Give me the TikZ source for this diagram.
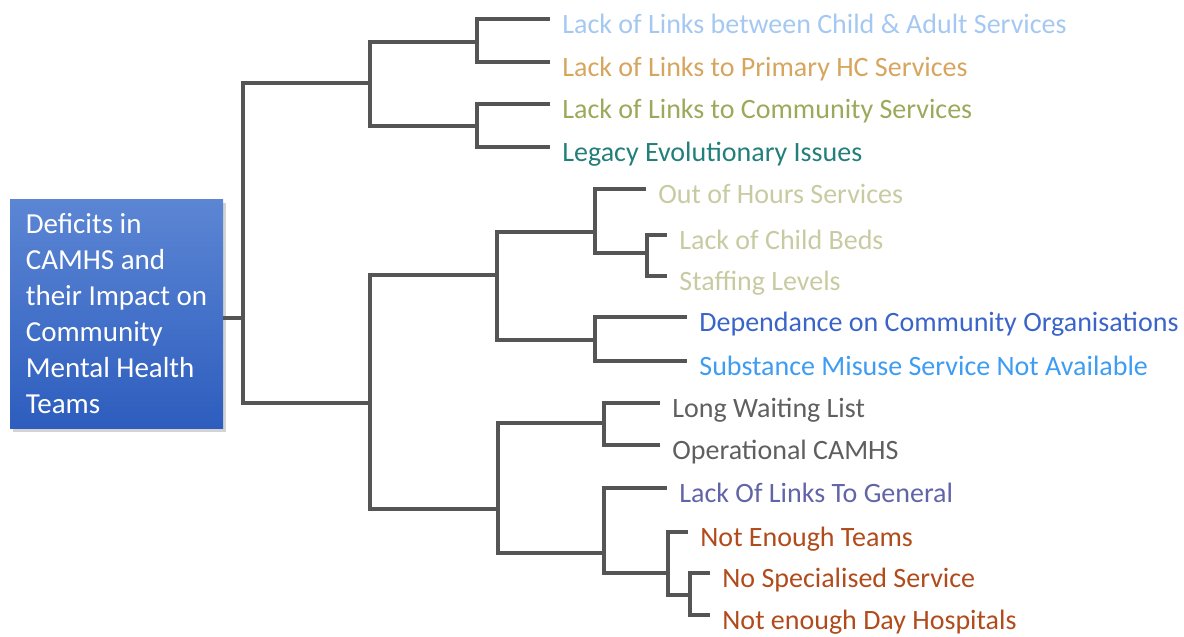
\documentclass[tikz,border=0pt]{standalone}
\usepackage{fontspec}
\setmainfont{Carlito}
\usepackage{tikz}
\usetikzlibrary{shadows}
\definecolor{lineGray}{HTML}{555555}
\definecolor{boxTop}{HTML}{5C86D4}
\definecolor{boxBot}{HTML}{2D5DBE}
\definecolor{cChildAdult}{HTML}{A4C8F2}
\definecolor{cPrimary}{HTML}{D6A55E}
\definecolor{cCommunity}{HTML}{9EA85A}
\definecolor{cLegacy}{HTML}{237F7A}
\definecolor{cHours}{HTML}{C8CBA2}
\definecolor{cDepend}{HTML}{3B64C9}
\definecolor{cSubst}{HTML}{3E9CF2}
\definecolor{cWaiting}{HTML}{5F5F5F}
\definecolor{cGeneral}{HTML}{6264A8}
\definecolor{cTeams}{HTML}{B14B1C}
\tikzset{
  branch/.style={draw=lineGray,line width=1.6pt},
  leaf/.style={anchor=west,inner xsep=6pt,inner ysep=0pt,text height=14pt,text depth=0pt,
    font=\fontsize{14}{16}\selectfont},
  rootbox/.style={top color=boxTop,bottom color=boxBot,text=white,align=left,
    minimum width=106.5pt,minimum height=114.5pt,
    font=\fontsize{14.5}{18}\selectfont,
    drop shadow={shadow xshift=1.5pt,shadow yshift=-1.5pt,opacity=0.35}}
}

\begin{document}
\begin{tikzpicture}[x=0.5pt,y=-0.5pt]
  \useasboundingbox (0,0) rectangle (1184,637);
  \node[rootbox] (root) at (116.5,314) {Deficits in\\CAMHS and\\their Impact on\\Community\\Mental Health\\Teams};
  % branch points
  \coordinate (J0) at (243,318);
  \coordinate (Ja) at (370,83);
  \coordinate (Jaa) at (477,42);
  \coordinate (Jab) at (477,126);
  \coordinate (Jb) at (370,403);
  \coordinate (Jba) at (497,275);
  \coordinate (Jbaa) at (595,232);
  \coordinate (Jbaaa) at (647,253);
  \coordinate (Jbab) at (595,340);
  \coordinate (Jbb) at (498,509);
  \coordinate (Jbba) at (604,423);
  \coordinate (Jbbb) at (604,553);
  \coordinate (Jbbba) at (668,573);
  \coordinate (Jbbbaa) at (690,595);
  % leaves
  \node[leaf,text=cChildAdult] (L1) at (550,19) {Lack of Links between Child \& Adult Services};
  \node[leaf,text=cPrimary] (L2) at (550,62) {Lack of Links to Primary HC Services};
  \node[leaf,text=cCommunity] (L3) at (550,104) {Lack of Links to Community Services};
  \node[leaf,text=cLegacy] (L4) at (550,147) {Legacy Evolutionary Issues};
  \node[leaf,text=cHours] (L5) at (646,189) {Out of Hours Services};
  \node[leaf,text=cHours] (L6) at (667,235) {Lack of Child Beds};
  \node[leaf,text=cHours] (L7) at (667,276) {Staffing Levels};
  \node[leaf,text=cDepend] (L8) at (687,317) {Dependance on Community Organisations};
  \node[leaf,text=cSubst] (L9) at (687,361) {Substance Misuse Service Not Available};
  \node[leaf,text=cWaiting] (L10) at (660,403) {Long Waiting List};
  \node[leaf,text=cWaiting] (L11) at (660,445) {Operational CAMHS};
  \node[leaf,text=cGeneral] (L12) at (667,488) {Lack Of Links To General};
  \node[leaf,text=cTeams] (L13) at (688,532) {Not Enough Teams};
  \node[leaf,text=cTeams] (L14) at (710,573) {No Specialised Service};
  \node[leaf,text=cTeams] (L15) at (710,615) {Not enough Day Hospitals};
  % connectors
  \draw[branch] (root.east |- J0) -- (J0);
  \foreach \a/\b in {J0/Ja,J0/Jb,Ja/Jaa,Ja/Jab,Jaa/L1,Jaa/L2,Jab/L3,Jab/L4,
      Jb/Jba,Jb/Jbb,Jba/Jbaa,Jba/Jbab,Jbaa/L5,Jbaa/Jbaaa,Jbaaa/L6,Jbaaa/L7,
      Jbab/L8,Jbab/L9,Jbb/Jbba,Jbb/Jbbb,Jbba/L10,Jbba/L11,Jbbb/L12,Jbbb/Jbbba,
      Jbbba/L13,Jbbba/Jbbbaa,Jbbbaa/L14,Jbbbaa/L15}
    \draw[branch] (\a) |- (\b);
\end{tikzpicture}
\end{document}
